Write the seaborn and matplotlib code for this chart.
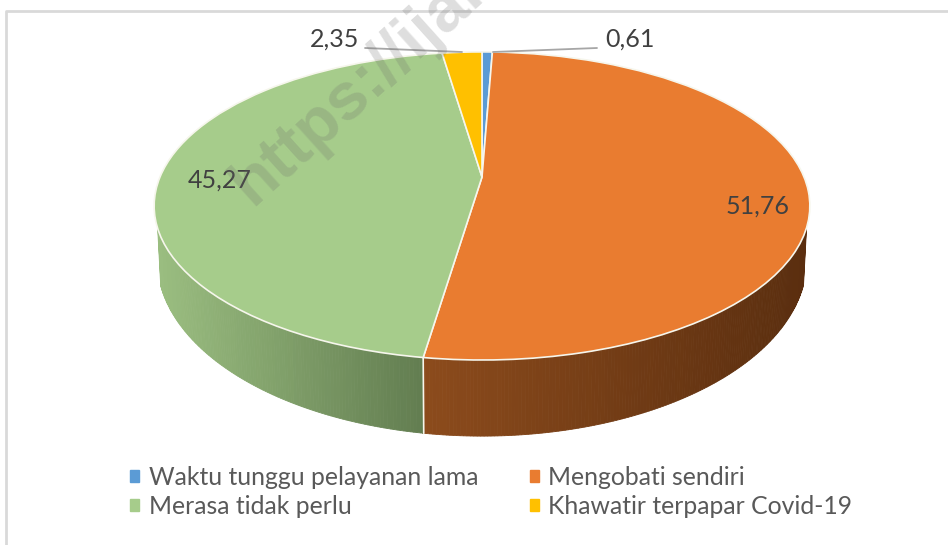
import numpy as np
import seaborn as sns
from matplotlib import pyplot as plt
from matplotlib.patches import Patch
from matplotlib.transforms import Transform

# data
categories = ['Waktu tunggu pelayanan lama', 'Mengobati sendiri',
              'Merasa tidak perlu', 'Khawatir terpapar Covid-19']
values = [0.61, 51.76, 45.27, 2.35]
value_labels = ['0,61', '51,76', '45,27', '2,35']

colors = ['#5B9BD5', '#E97C30', '#A6CC8B', '#FFC000']
wall_colors = [('#3f6c94', '#2f5170'), ('#8c4b1c', '#5a2e0f'),
               ('#9abd80', '#627d50'), ('#b38600', '#8a6800')]


class Tilt(Transform):
    # unit circle -> picture pixels, with some perspective
    input_dims = 2
    output_dims = 2

    def __init__(self, x0, y0, a, b, k):
        super().__init__()
        self.x0, self.y0, self.a, self.b, self.k = x0, y0, a, b, k

    def transform_non_affine(self, xy):
        xy = np.asarray(xy, dtype=float)
        w = 1 + self.k * xy[:, 1]
        return np.column_stack([self.x0 + self.a * xy[:, 0] / w,
                                self.y0 - self.b * xy[:, 1] / w])


sns.set_theme(style='white')
plt.rcParams['font.family'] = ['Lato', 'DejaVu Sans']

fig = plt.figure(figsize=(9.48, 5.45), dpi=100)
ax = fig.add_axes([0, 0, 1, 1])

top = Tilt(482, 177, 322, 148.6, 0.188)
bottom = Tilt(482, 227, 319, 169.8, 0.188)

wedges, _ = ax.pie(values, colors=colors, startangle=90, counterclock=False,
                   wedgeprops=dict(edgecolor='#f6f6ec', linewidth=1.2, zorder=3))
for w in wedges:
    w.set_transform(top + ax.transData)

ax.set_aspect('auto')
ax.set_xlim(0, 948)
ax.set_ylim(545, 0)
ax.set_axis_off()

# side wall, one thin strip per step of the angle
starts = 90 - np.cumsum([0] + values[:-1]) / sum(values) * 360
ends = 90 - np.cumsum(values) / sum(values) * 360
for start, end, (c1, c2) in zip(starts, ends, wall_colors):
    ramp = sns.blend_palette([c1, c2], 64)
    ang = np.radians(np.arange(start, end - 0.5, -0.5))
    ang = np.append(ang, np.radians(end))
    ang = ang[np.sin(ang) < -0.32]
    if len(ang) < 2:
        continue
    circle = np.column_stack([np.cos(ang), np.sin(ang)])
    upper = top.transform(circle)
    lower = bottom.transform(circle)
    x_lo, x_hi = upper[:, 0].min(), upper[:, 0].max()
    for i in range(len(ang) - 1):
        f = (upper[i, 0] - x_lo) / (x_hi - x_lo)
        col = ramp[int(f * 63)]
        ax.fill([upper[i, 0], upper[i + 1, 0], lower[i + 1, 0], lower[i, 0]],
                [upper[i, 1], upper[i + 1, 1], lower[i + 1, 1], lower[i, 1]],
                color=col, linewidth=0.6, zorder=1)

# divider on the wall between orange and green
a = np.radians(ends[1])
p = np.array([[np.cos(a), np.sin(a)]])
ax.plot([top.transform(p)[0, 0], bottom.transform(p)[0, 0]],
        [top.transform(p)[0, 1], bottom.transform(p)[0, 1]],
        color='#f6f6ec', lw=1.2, zorder=2)

# leader lines and value labels
ax.plot([365, 462], [48, 52], color='#a6a6a6', lw=1.3, zorder=4)
ax.plot([493, 597], [52, 48], color='#a6a6a6', lw=1.3, zorder=4)
label_pos = [(630, 39), (758, 206), (220, 180), (335, 39)]
for txt, (x, y) in zip(value_labels, label_pos):
    ax.text(x, y, txt, ha='center', va='center', fontsize=18,
            color='#404040', zorder=5)

# legend
order = [0, 2, 1, 3]
handles = [Patch(color=colors[i]) for i in order]
ax.legend(handles, [categories[i] for i in order], ncol=2, frameon=False,
          loc='center left', bbox_to_anchor=(130 / 948, 1 - 492 / 545),
          fontsize=17.8, labelcolor='#595959', handlelength=0.36, handleheight=0.36,
          handletextpad=0.39, columnspacing=2.1, labelspacing=0.26,
          borderpad=0, borderaxespad=0)

# chart frame
ax.plot([6, 6, 948], [545, 11, 11], color='#d9d9d9', lw=2, zorder=0)

# watermark, runs off the top of the picture like the original
ax.text(252, 207, 'https://ijak', rotation=42, rotation_mode='anchor',
        ha='left', va='baseline', fontsize=48, fontweight='bold',
        family='Liberation Sans', color='#6a6a6a', alpha=0.22, zorder=6)

fig.savefig('out.png', dpi=100)
